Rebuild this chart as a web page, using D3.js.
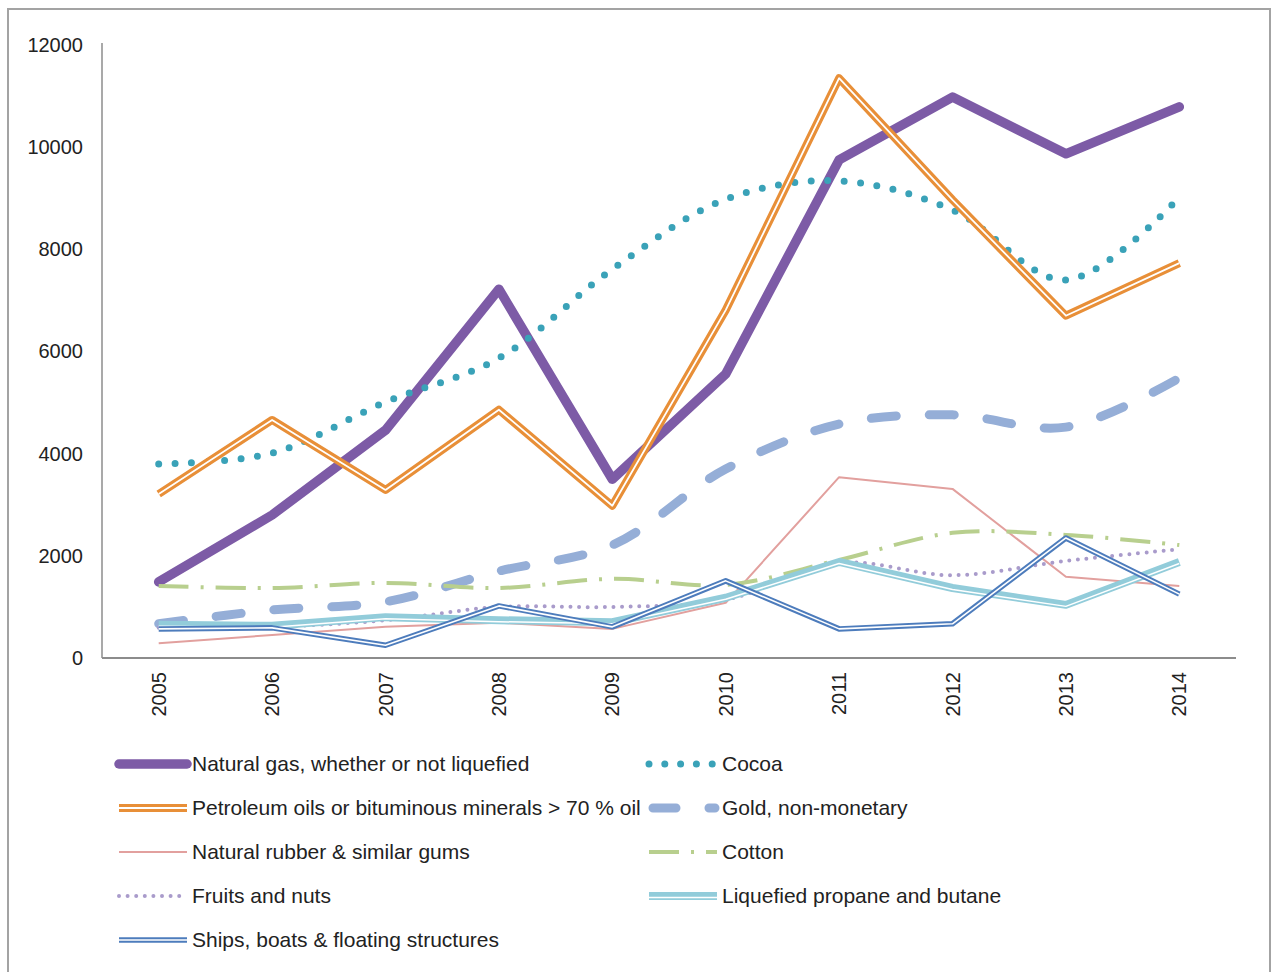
<!DOCTYPE html>
<html>
<head>
<meta charset="utf-8">
<script src="https://cdn.jsdelivr.net/npm/d3@7"></script>
<style>
  body { margin: 0; background: #fff; }
  text { font-family: "Liberation Sans", Arial, sans-serif; fill: #222; }
</style>
</head>
<body>
<svg width="1272" height="972"></svg>
<script>
var years = ["2005", "2006", "2007", "2008", "2009", "2010", "2011", "2012", "2013", "2014"];
var yTicks = [0, 2000, 4000, 6000, 8000, 10000, 12000];

var naturalGas = [1490, 2800, 4460, 7220, 3500, 5560, 9750, 10980, 9870, 10790];
var cocoa      = [3800, 4010, 5010, 5870, 7610, 8980, 9340, 8770, 7400, 9020];
var petroleum  = [3210, 4660, 3290, 4860, 2980, 6810, 11350, 8970, 6700, 7730];
var gold       = [670, 940, 1100, 1700, 2210, 3700, 4580, 4760, 4520, 5480];
var rubber     = [290, 450, 610, 690, 570, 1080, 3540, 3310, 1590, 1410];
var cotton     = [1410, 1370, 1470, 1370, 1550, 1430, 1920, 2450, 2410, 2210];
var fruits     = [590, 610, 740, 1000, 1000, 1140, 1860, 1620, 1900, 2130];
var propane    = [650, 630, 800, 740, 700, 1180, 1880, 1370, 1040, 1880];
var ships      = [570, 590, 250, 1020, 610, 1510, 570, 670, 2350, 1250];

var seriesNames = [
  "Natural gas, whether or not liquefied", "Cocoa",
  "Petroleum oils or bituminous minerals > 70 % oil", "Gold, non-monetary",
  "Natural rubber & similar gums", "Cotton",
  "Fruits and nuts", "Liquefied propane and butane",
  "Ships, boats & floating structures"
];

var series = [
  {name: seriesNames[0], values: naturalGas, color: "#7d5ba6", width: 9.5, cap: "round", smooth: false},
  {name: seriesNames[1], values: cocoa, color: "#3aa2b8", width: 7, dash: "0 16.5", cap: "round", smooth: true},
  {name: seriesNames[2], values: petroleum, color: "#e88f38", width: 8, inner: 1.8, smooth: false},
  {name: seriesNames[3], values: gold, color: "#95aed7", width: 9, dash: "25 33", cap: "round", smooth: true},
  {name: seriesNames[4], values: rubber, color: "#e2a09e", width: 2, smooth: false},
  {name: seriesNames[5], values: cotton, color: "#b8cf8e", width: 4, dash: "30 12 3 12", smooth: true},
  {name: seriesNames[6], values: fruits, color: "#a99bcb", width: 4, dash: "0 8.6", cap: "round", smooth: true},
  {name: seriesNames[7], values: propane, color: "#92ccda", width: 8, inner: 1.5, innerShift: 1.5, smooth: false},
  {name: seriesNames[8], values: ships, color: "#4d7cbc", width: 5.5, inner: 1.6, smooth: false}
];

var svg = d3.select("svg");

// outer frame
svg.append("rect")
  .attr("x", 8).attr("y", 9)
  .attr("width", 1262).attr("height", 975)
  .attr("fill", "none")
  .attr("stroke", "#a3a3a3")
  .attr("stroke-width", 2);

var x = d3.scaleBand().domain(years).range([102, 1236]);
var y = d3.scaleLinear().domain([0, 12000]).range([658, 45]);

function cx(i) { return x(years[i]) + x.bandwidth() / 2; }

// axes
var yAxis = svg.append("g")
  .attr("transform", "translate(102,0)")
  .call(d3.axisLeft(y).tickValues(yTicks).tickSize(0).tickPadding(19).tickFormat(d3.format("d")));
yAxis.select(".domain").attr("stroke", "#8c8c8c").attr("stroke-width", 1.5)
  .attr("d", "M0," + (y(12000) - 2) + "V" + y(0));
yAxis.selectAll("text").attr("font-size", 20).attr("fill", "#222")
  .attr("font-family", "Liberation Sans, Arial, sans-serif");

var xAxis = svg.append("g")
  .attr("transform", "translate(0,658)")
  .call(d3.axisBottom(x).tickSize(0).tickPadding(0));
xAxis.select(".domain").attr("stroke", "#8c8c8c").attr("stroke-width", 2)
  .attr("d", "M102,0H1236");
xAxis.selectAll("text")
  .attr("font-size", 20).attr("fill", "#222")
  .attr("font-family", "Liberation Sans, Arial, sans-serif")
  .attr("transform", "rotate(-90)")
  .attr("text-anchor", "end")
  .attr("x", -14).attr("y", 0).attr("dy", "0.35em");

// lines
function drawSeries(g, s, pathD) {
  var p = g.append("path")
    .attr("d", pathD)
    .attr("fill", "none")
    .attr("stroke", s.color)
    .attr("stroke-width", s.width)
    .attr("stroke-linejoin", "round")
    .attr("stroke-linecap", s.cap || "butt");
  if (s.dash) p.attr("stroke-dasharray", s.dash);
  if (s.inner) {
    g.append("path")
      .attr("d", pathD)
      .attr("transform", "translate(0," + (s.innerShift || 0) + ")")
      .attr("fill", "none")
      .attr("stroke", "#fff")
      .attr("stroke-width", s.inner)
      .attr("stroke-linejoin", "round");
  }
}

var plot = svg.append("g");
series.forEach(function (s) {
  var line = d3.line()
    .x(function (d, i) { return cx(i); })
    .y(function (d) { return y(d); })
    .curve(s.smooth ? d3.curveCatmullRom.alpha(0.5) : d3.curveLinear);
  drawSeries(plot, s, line(s.values));
});

// legend
var legend = svg.append("g");
series.forEach(function (s, i) {
  var col = i % 2, row = Math.floor(i / 2);
  var lx = col === 0 ? 119 : 649;
  var ly = 764 + row * 44;
  var g = legend.append("g");
  var x0 = lx, x1 = lx + 68;
  var ls = Object.assign({}, s);
  if (s === series[3]) { x0 = lx + 4; x1 = lx + 66; ls.dash = "23 33"; }
  if (s === series[1]) { ls.dash = "0 15.8"; x1 = lx + 66; }
  drawSeries(g, ls, "M" + x0 + "," + ly + "H" + x1);
  g.append("text")
    .attr("x", lx + 73)
    .attr("y", ly)
    .attr("dy", "0.35em")
    .attr("font-size", 21)
    .text(s.name);
});
</script>
</body>
</html>
